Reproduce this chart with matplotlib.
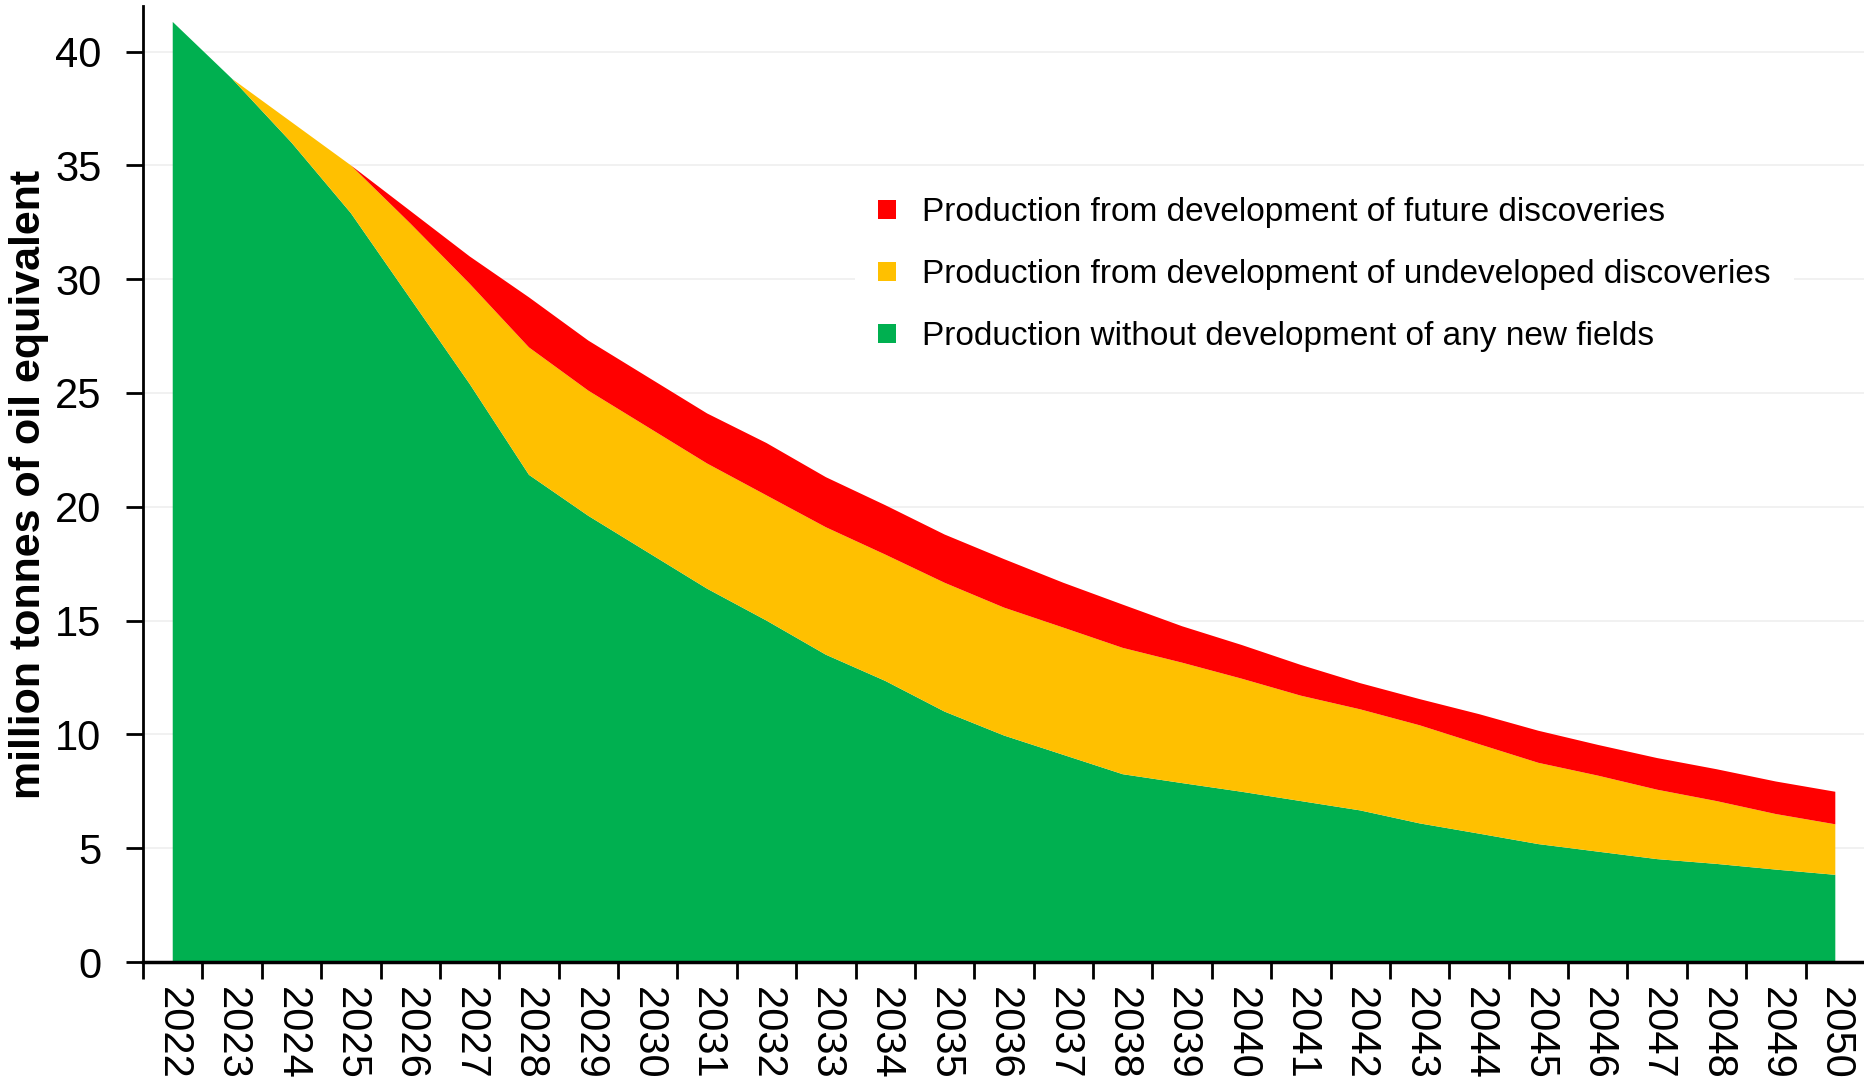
import matplotlib
matplotlib.use("Agg")
import matplotlib.pyplot as plt
from matplotlib.patches import Patch
import numpy as np

plt.rcParams['font.family'] = ['Liberation Sans', 'DejaVu Sans']

# years on the x axis
years = list(range(2022, 2051))

# million tonnes of oil equivalent
no_new_fields = [41.3, 38.8, 36.0, 32.9, 29.15, 25.4, 21.4, 19.6, 18.0, 16.4,
                 15.0, 13.5, 12.35, 11.0, 9.95, 9.1, 8.25, 7.86, 7.48, 7.07,
                 6.66, 6.09, 5.64, 5.18, 4.85, 4.52, 4.31, 4.06, 3.83]
undeveloped = [0.0, 0.0, 0.9, 2.1, 3.3, 4.4, 5.6, 5.5, 5.5, 5.5,
               5.5, 5.6, 5.55, 5.66, 5.62, 5.59, 5.55, 5.29, 4.97, 4.63,
               4.44, 4.31, 3.93, 3.57, 3.34, 3.05, 2.76, 2.44, 2.22]
future = [0.0, 0.0, 0.0, 0.0, 0.55, 1.2, 2.2, 2.2, 2.2, 2.2,
          2.3, 2.2, 2.17, 2.12, 2.13, 1.97, 1.9, 1.6, 1.48, 1.35,
          1.15, 1.15, 1.32, 1.41, 1.35, 1.39, 1.40, 1.43, 1.43]

labels = ["Production without development of any new fields",
          "Production from development of undeveloped discoveries",
          "Production from development of future discoveries"]
colors = ["#00B050", "#FFC000", "#FF0000"]

fig = plt.figure(figsize=(18.65, 10.88), dpi=100)
ax = fig.add_axes([0.0767, 0.1158, 0.9233, 0.8787])

x = np.arange(len(years))
ax.stackplot(x, no_new_fields, undeveloped, future, colors=colors, linewidth=0, zorder=2)

ax.set_xlim(-0.5, len(years) - 0.5)
ax.set_ylim(0, 42)
ax.set_yticks(range(0, 41, 5))
ax.yaxis.grid(True, color="#EFEFEF", linewidth=1.2, zorder=0)
ax.set_axisbelow(True)

# labels at category centres, tick marks between categories
ax.set_xticks(x)
ax.set_xticklabels([str(y) for y in years], rotation=270)
ax.set_xticks(np.arange(-0.5, len(years), 1), minor=True)
ax.tick_params(axis='x', which='major', length=0, pad=18, labelsize=30)
ax.tick_params(axis='x', which='minor', length=12, width=2, direction='out')
ax.tick_params(axis='y', length=12, width=2, direction='out', pad=18, labelsize=30)

for s in ['top', 'right']:
    ax.spines[s].set_visible(False)
ax.spines['left'].set_linewidth(2)
ax.spines['bottom'].set_linewidth(2.5)

ax.set_ylabel("million tonnes of oil equivalent", fontsize=31, fontweight='bold', labelpad=4)

handles = [Patch(facecolor=colors[i], edgecolor='none', label=labels[i]) for i in (2, 1, 0)]
leg = ax.legend(handles=handles, loc='upper left', bbox_to_anchor=(865 / 1865, 1 - 184 / 1088),
                bbox_transform=fig.transFigure, fontsize=24, frameon=True, facecolor='white',
                edgecolor='none', framealpha=1, borderaxespad=0, borderpad=0.4,
                handlelength=0.52, handleheight=0.52, handletextpad=0.8, labelspacing=0.93)
leg.get_frame().set_boxstyle('square')

fig.savefig("out.png", dpi=100)
